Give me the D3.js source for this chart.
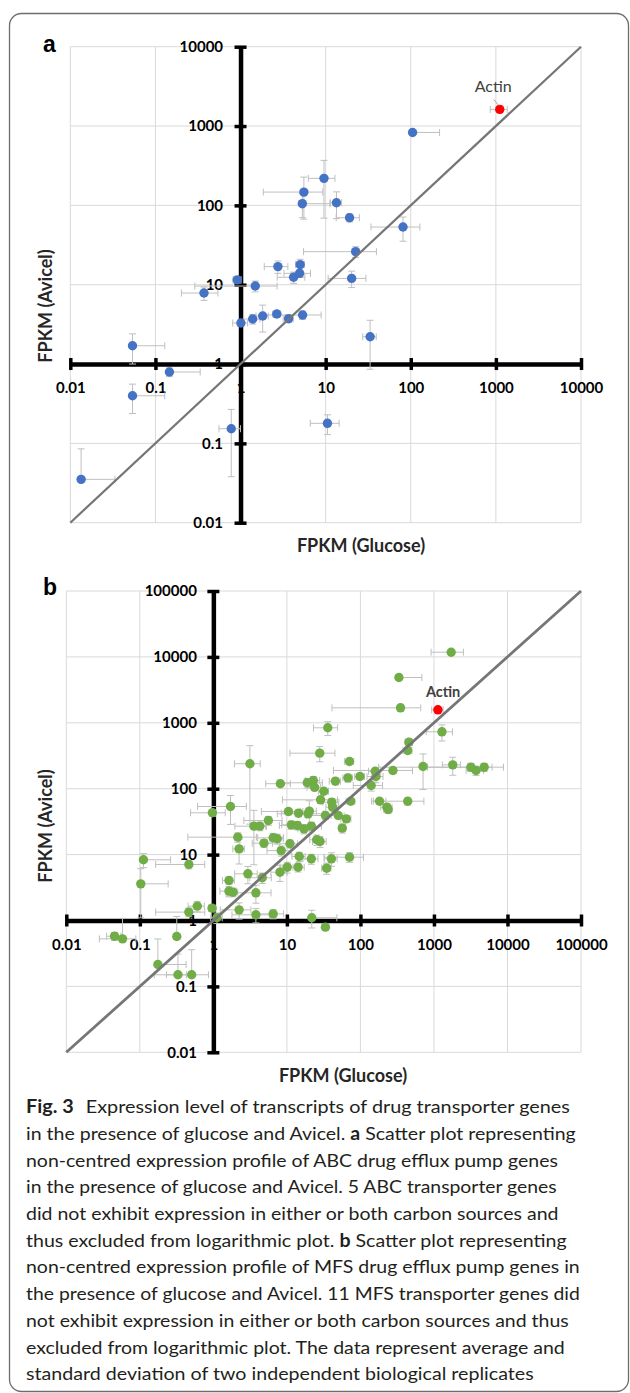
<!DOCTYPE html>
<html lang="en">
<head>
<meta charset="utf-8">
<title>Fig. 3 - FPKM of drug transporter genes, glucose vs Avicel</title>
<script src="https://cdn.jsdelivr.net/npm/d3@7"></script>
<style>
  body { margin: 0; background: #fff; }
  svg { display: block; }
</style>
</head>
<body>
<script>
// ---- data (FPKM, mean and SD) ----

// panel a: ABC efflux pump genes, x = glucose, y = Avicel
var abcGlucose   = [105, 9.56, 5.55, 5.32, 13.4, 19.1, 81.1, 22.5, 20.2, 2.75,
                    5.02, 4.94, 4.2, 0.915, 1.49, 0.372, 1.01, 1.39, 1.82, 2.67,
                    3.67, 5.36, 33.3, 0.0538, 0.146, 0.0538, 0.778, 10.5, 0.0134];
var abcAvicel    = [830, 219, 147, 105, 108, 69.9, 53.3, 26.1, 12.0, 16.9,
                    17.9, 13.9, 12.4, 11.5, 9.62, 7.85, 3.29, 3.69, 4.03, 4.27,
                    3.73, 4.15, 2.21, 1.70, 0.793, 0.398, 0.153, 0.179, 0.0352];
var abcGlucoseSd = [113, 3.3, 3.7, 5.9, 2, 5.8, 47, 17, 9.5, 0.85,
                    0.6, 1.7, 1.5, 0.1, 1.2, 0.17, 0.2, 0.3, 0.3, 0.3,
                    0.5, 3.5, 6, 0.075, 0.19, 0.075, 0.22, 3.9, 0.02];
var abcAvicelSd  = [30, 150, 80, 35, 40, 8, 18, 4, 2.8, 3,
                    3, 1.5, 2, 1, 1.5, 1.5, 0.3, 0.5, 1.5, 0.4,
                    0.4, 0.5, 1.35, 0.7, 0.1, 0.16, 0.115, 0.05, 0.05];

// panel b: MFS efflux pump genes
var mfsGlucose   = [1714, 334, 351, 36, 1285, 457, 440, 28, 3.14, 71,
                    711, 1802, 3177, 3740, 4820, 277, 159, 163, 98.5, 67.6,
                    45.7, 8.16, 18.9, 22.9, 23.8, 31.8, 140, 28.7, 40.8, 41.9,
                    73.8, 182, 229, 238, 440, 1.71, 0.97, 10.5, 14.4, 19.4,
                    20.2, 33.4, 50, 64.3, 56.7, 5.6, 3.56, 4.29, 11.5, 13.9,
                    21.5, 17.1, 2.15, 6.51, 7.38, 25.5, 28.3, 2.24, 4.88, 11,
                    8.37, 14.7, 21.5, 40.3, 71.1, 14.2, 34.7, 10.1, 8.05, 0.112,
                    0.464, 0.103, 2.95, 4.63, 1.63, 1.63, 1.85, 3.79, 0.604, 0.464,
                    0.96, 2.24, 3.79, 6.51, 1.12, 21.8, 33.4, 0.0453, 0.0582, 0.318,
                    0.176, 0.33, 0.507];
var mfsAvicel    = [11780, 4866, 1688, 840, 730, 508, 380, 346, 239, 259,
                    217, 230, 212, 189, 212, 189, 184, 153, 153, 146,
                    130, 119, 123, 133, 105, 91.6, 112, 67.8, 62.4, 52.4,
                    64.6, 64.6, 52.4, 48.3, 64.6, 53.7, 43.1, 45.1, 42.5, 41.6,
                    45.6, 39.2, 39.2, 34.9, 25.2, 32.9, 27, 27, 28.3, 27.7,
                    27, 24.6, 18.4, 18, 17.4, 16.8, 15.8, 12.2, 14.9, 14.6,
                    11.5, 9.36, 8.63, 8.63, 9.14, 6.44, 6.22, 6.44, 5.41, 8.34,
                    7.08, 3.6, 5.11, 4.45, 4.05, 2.79, 2.69, 2.63, 1.65, 1.34,
                    1.54, 1.45, 1.22, 1.26, 1.1, 1.1, 0.792, 0.578, 0.527, 0.572,
                    0.215, 0.15, 0.15];
var mfsGlucoseSd = [800, 350, 310, 13, 500, 50, 60, 17, 1.2, 10,
                    60, 500, 3000, 1000, 4000, 234, 30, 40, 15, 10,
                    8, 3, 11.5, 5, 5, 5, 60, 20, 10, 8,
                    10, 40, 40, 30, 290, 1.1, 0.48, 6, 6, 12,
                    5, 15, 10, 10, 6, 3, 1.6, 1, 3, 6,
                    8, 3, 1.7, 2.5, 1.5, 5, 6, 0.4, 1.5, 3,
                    3, 3, 5, 8, 39, 3, 5, 2, 2, 0.15,
                    0.3, 0.14, 1, 1.5, 0.3, 0.4, 0.3, 2.3, 0.15, 0.3,
                    0.1, 1, 2, 2.5, 0.2, 26, 3, 0.01, 0.03, 0.03,
                    0.25, 0.1, 0.35];
var mfsAvicelSd  = [500, 200, 100, 200, 200, 50, 40, 90, 210, 20,
                    120, 70, 30, 30, 30, 20, 20, 30, 15, 20,
                    15, 10, 20, 20, 10, 10, 20, 8, 8, 5,
                    6, 6, 6, 6, 8, 25, 5, 5, 5, 5,
                    20, 5, 4, 4, 4, 5, 20, 4, 4, 4,
                    4, 4, 3, 3, 3, 3, 3, 5, 2, 2,
                    2, 1.5, 1.5, 2, 1.5, 1, 1.2, 1.2, 1.5, 2,
                    1, 2.5, 1.5, 0.8, 0.5, 0.5, 0.4, 0.8, 0.3, 0.2,
                    0.15, 0.4, 0.3, 0.2, 0.2, 0.33, 0.05, 0.08, 0.55, 0.58,
                    0.31, 0.16, 0.21];

// actin reference point, [panel a, panel b]
var actinGlucose   = [1110, 1133];
var actinAvicel    = [1620, 1574];
var actinGlucoseSd = [250, 200];
var actinAvicelSd  = [150, 100];

// log axes ticks
var ticksA  = [0.01, 0.1, 1, 10, 100, 1000, 10000];
var labelsA = ["0.01", "0.1", "1", "10", "100", "1000", "10000"];
var ticksB  = [0.01, 0.1, 1, 10, 100, 1000, 10000, 100000];
var labelsB = ["0.01", "0.1", "1", "10", "100", "1000", "10000", "100000"];

var captionLines = [
  "**Fig. 3**|Expression level of transcripts of drug transporter genes",
  "in the presence of glucose and Avicel. **a** Scatter plot representing",
  "non-centred expression profile of ABC drug efflux pump genes",
  "in the presence of glucose and Avicel. 5 ABC transporter genes",
  "did not exhibit expression in either or both carbon sources and",
  "thus excluded from logarithmic plot. **b** Scatter plot representing",
  "non-centred expression profile of MFS drug efflux pump genes in",
  "the presence of glucose and Avicel. 11 MFS transporter genes did",
  "not exhibit expression in either or both carbon sources and thus",
  "excluded from logarithmic plot. The data represent average and",
  "standard deviation of two independent biological replicates"
];
// right end of each caption line in the figure
var captionEnds = [558, 576, 558, 557, 559, 567, 580, 580, 569, 565, 534];

// ---- drawing ----
var w = 630;
var h = 1393;
var chartFont = "Lato, 'Liberation Sans', sans-serif";

var svg = d3.select("body").append("svg")
            .attr("width", w)
            .attr("height", h);

// frame
svg.append("rect")
   .attr("x", 9.5).attr("y", 13.5)
   .attr("width", 619).attr("height", 1378)
   .attr("rx", 12)
   .attr("fill", "none")
   .attr("stroke", "#6d6d6d")
   .attr("stroke-width", 1.3);

var drawPanel = function(p) {
  var ticks = p.ticks;
  var lo = ticks[0], hi = ticks[ticks.length - 1];
  var x = d3.scaleLog().domain([lo, hi]).range(p.xRange);
  var y = d3.scaleLog().domain([lo, hi]).range(p.yRange);
  var g = svg.append("g");

  // gridlines
  g.selectAll(".vg").data(ticks).enter().append("line")
   .attr("x1", function(d) { return x(d); })
   .attr("x2", function(d) { return x(d); })
   .attr("y1", p.yRange[0]).attr("y2", p.yRange[1])
   .attr("stroke", "#d9d9d9").attr("stroke-width", 1);
  g.selectAll(".hg").data(ticks).enter().append("line")
   .attr("y1", function(d) { return y(d); })
   .attr("y2", function(d) { return y(d); })
   .attr("x1", p.xRange[0]).attr("x2", p.xRange[1])
   .attr("stroke", "#d9d9d9").attr("stroke-width", 1);

  var fmt = function(d) { return p.labels[ticks.indexOf(d)]; };

  // axes cross at 1
  var yAxis = d3.axisLeft(y).tickValues(ticks).tickFormat(fmt)
                .tickSize(6).tickSizeOuter(0).tickPadding(p.yPad);
  var gy = g.append("g").attr("transform", "translate(" + x(1) + ",0)").call(yAxis);
  gy.selectAll(".tick line").attr("x1", 6).attr("stroke", "#000").attr("stroke-width", 3.5);

  var xAxis = d3.axisBottom(x).tickValues(ticks).tickFormat(fmt)
                .tickSize(6).tickSizeOuter(0).tickPadding(p.xPad);
  var gx = g.append("g").attr("transform", "translate(0," + y(1) + ")").call(xAxis);
  gx.selectAll(".tick line").attr("y1", -6).attr("stroke", "#000").attr("stroke-width", 3.5);

  [gx, gy].forEach(function(a) {
    a.select(".domain").attr("stroke", "#000").attr("stroke-width", 4.5);
    a.selectAll("text")
     .attr("font-family", chartFont)
     .attr("font-size", 15)
     .attr("font-weight", "bold")
     .attr("fill", "#000");
  });

  // points incl. actin (last)
  var pts = p.gx.map(function(v, i) {
    return { x: v, y: p.gy[i], xsd: p.gxSd[i], ysd: p.gySd[i], actin: false };
  });
  pts.push({ x: p.actin[0], y: p.actin[1], xsd: p.actin[2], ysd: p.actin[3], actin: true });

  // error bars: minus side is not drawn when it would fall below zero (log axis)
  var eb = g.append("g").attr("stroke", "#bfbfbf").attr("stroke-width", 1).attr("fill", "none");
  var cap = 3.5;
  pts.forEach(function(d) {
    var x0 = d.x - d.xsd > 0 ? x(d.x - d.xsd) : x(d.x);
    var x1 = x(d.x + d.xsd);
    var cy = y(d.y);
    eb.append("line").attr("x1", x0).attr("x2", x1).attr("y1", cy).attr("y2", cy);
    eb.append("line").attr("x1", x1).attr("x2", x1).attr("y1", cy - cap).attr("y2", cy + cap);
    if (d.x - d.xsd > 0)
      eb.append("line").attr("x1", x0).attr("x2", x0).attr("y1", cy - cap).attr("y2", cy + cap);

    var y0 = d.y - d.ysd > 0 ? y(d.y - d.ysd) : y(d.y);
    var y1 = y(d.y + d.ysd);
    var cx = x(d.x);
    eb.append("line").attr("x1", cx).attr("x2", cx).attr("y1", y0).attr("y2", y1);
    eb.append("line").attr("x1", cx - cap).attr("x2", cx + cap).attr("y1", y1).attr("y2", y1);
    if (d.y - d.ysd > 0)
      eb.append("line").attr("x1", cx - cap).attr("x2", cx + cap).attr("y1", y0).attr("y2", y0);
  });

  g.selectAll(".pt").data(pts).enter().append("circle")
   .attr("cx", function(d) { return x(d.x); })
   .attr("cy", function(d) { return y(d.y); })
   .attr("r", 4.7)
   .attr("fill", function(d) { return d.actin ? "#ff0000" : p.color; });

  // y = x reference line
  g.append("path")
   .datum([lo, hi])
   .attr("d", d3.line().x(function(d) { return x(d); }).y(function(d) { return y(d); }))
   .attr("stroke", "#767676")
   .attr("stroke-width", p.lineW)
   .attr("fill", "none");

  // actin label
  var ax = x(p.actin[0]), ay = y(p.actin[1]);
  g.append("text")
   .attr("x", ax + p.actinDx).attr("y", ay + p.actinDy)
   .attr("font-family", chartFont)
   .attr("font-size", p.actinSize)
   .attr("font-weight", p.actinWeight)
   .attr("fill", "#404040")
   .text("Actin");
  if (p.leader) {
    g.append("line")
     .attr("x1", ax - 6).attr("y1", ay - 10).attr("x2", ax - 1).attr("y2", ay - 4)
     .attr("stroke", "#a6a6a6").attr("stroke-width", 1);
  }

  // axis titles
  g.append("text")
   .attr("x", p.xTitle[0]).attr("y", p.xTitle[1])
   .attr("text-anchor", "middle")
   .attr("font-family", chartFont).attr("font-size", 18).attr("font-weight", "bold")
   .attr("fill", "#262626")
   .text("FPKM (Glucose)");
  g.append("text")
   .attr("transform", "translate(" + p.yTitle[0] + "," + p.yTitle[1] + ") rotate(-90)")
   .attr("text-anchor", "middle")
   .attr("font-family", chartFont).attr("font-size", 18).attr("font-weight", "bold")
   .attr("fill", "#262626")
   .text("FPKM (Avicel)");

  // panel letter
  g.append("text")
   .attr("x", 43).attr("y", p.letterY)
   .attr("font-family", "'Liberation Sans', Arial, sans-serif")
   .attr("font-size", 23).attr("font-weight", "bold")
   .attr("fill", "#000")
   .text(p.letter);
};

drawPanel({
  ticks: ticksA, labels: labelsA,
  xRange: [70.3, 581], yRange: [522.7, 46.7],
  gx: abcGlucose, gy: abcAvicel, gxSd: abcGlucoseSd, gySd: abcAvicelSd,
  actin: [actinGlucose[0], actinAvicel[0], actinGlucoseSd[0], actinAvicelSd[0]],
  color: "#4472c4", lineW: 2.2,
  yPad: 11.5, xPad: 12,
  actinDx: -25, actinDy: -17, actinSize: 16, actinWeight: "normal", leader: true,
  xTitle: [361, 552], yTitle: [52, 306],
  letter: "a", letterY: 52
});

drawPanel({
  ticks: ticksB, labels: labelsB,
  xRange: [66.3, 581], yRange: [1052.3, 591],
  gx: mfsGlucose, gy: mfsAvicel, gxSd: mfsGlucoseSd, gySd: mfsAvicelSd,
  actin: [actinGlucose[1], actinAvicel[1], actinGlucoseSd[1], actinAvicelSd[1]],
  color: "#70ad47", lineW: 2.8,
  yPad: 10.5, xPad: 13,
  actinDx: -12, actinDy: -13, actinSize: 14.5, actinWeight: "bold", leader: false,
  xTitle: [343, 1082], yTitle: [52, 826],
  letter: "b", letterY: 595
});

// caption: "**" toggles bold, "|" is the wide gap after the figure number
var capG = svg.append("g")
              .attr("font-family", "Lato, 'Open Sans', sans-serif")
              .attr("font-size", 18)
              .attr("fill", "#231f20");
captionLines.forEach(function(line, i) {
  var baseline = 1113.3 + i * 26.7;
  var t = capG.append("text").attr("x", 26).attr("y", baseline);
  line.split("|").forEach(function(part, j) {
    part.split("**").forEach(function(seg, k) {
      if (seg.length === 0) return;
      var ts = t.append("tspan")
                .attr("font-weight", k % 2 === 1 ? "bold" : "normal")
                .text(seg);
      if (j > 0 && k === 0) ts.attr("dx", 11);
    });
  });
  var len = t.node().getComputedTextLength();
  var sx = (captionEnds[i] - 26) / len;
  t.attr("transform", "translate(26,0) scale(" + sx + ",1) translate(-26,0)");
});
</script>
</body>
</html>
